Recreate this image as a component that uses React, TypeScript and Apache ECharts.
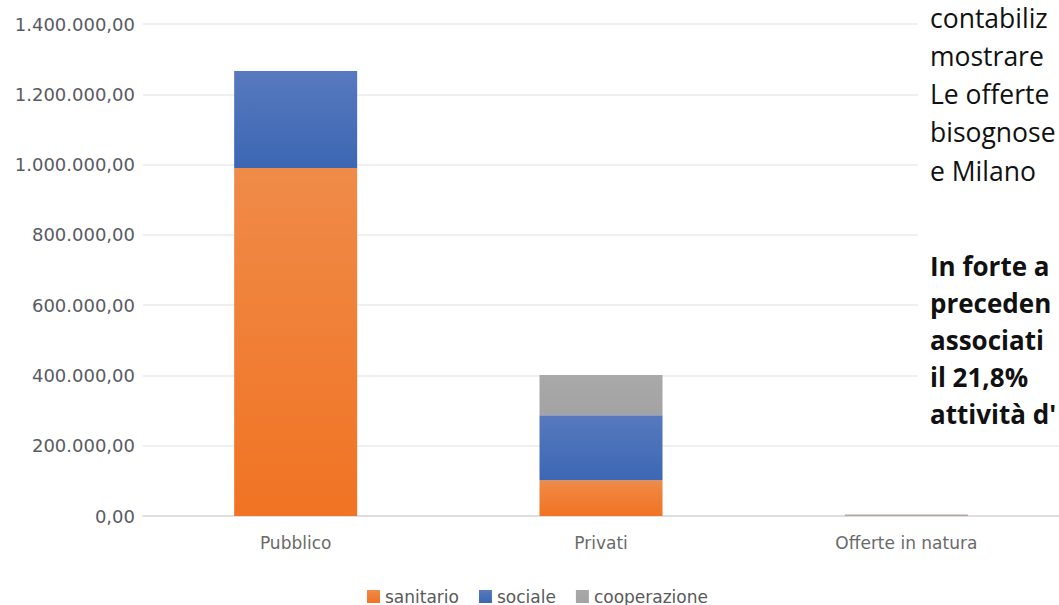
import React, { useEffect, useRef } from "react";
import * as echarts from "echarts";

const categories = ["Pubblico", "Privati", "Offerte in natura"];
const seriesNames = ["sanitario", "sociale", "cooperazione"];
const sanitario = [990000, 102000, 1200];
const sociale = [276000, 185000, 800];
const cooperazione = [0, 114000, 2000];
const yTickLabels = [
  "0,00",
  "200.000,00",
  "400.000,00",
  "600.000,00",
  "800.000,00",
  "1.000.000,00",
  "1.200.000,00",
  "1.400.000,00",
];
const textLinesRegular = ["contabiliz", "mostrare", "Le offerte", "bisognose", "e Milano"];
const textLinesBold = ["In forte a", "preceden", "associati", "il 21,8%", "attività d'"];

const FONT = "'DejaVu Sans', sans-serif";

function grad(top: string, bottom: string) {
  return new echarts.graphic.LinearGradient(0, 0, 0, 1, [
    { offset: 0, color: top },
    { offset: 1, color: bottom },
  ]);
}

export default function App() {
  const ref = useRef<HTMLDivElement>(null);
  useEffect(() => {
    if (!ref.current) return;
    const chart = echarts.init(ref.current, undefined, { renderer: "svg" });
    const colors = [
      grad("#EF8B48", "#F17323"),
      grad("#5779BF", "#3C67B3"),
      grad("#A9A9A9", "#A3A3A3"),
    ];
    const data = [sanitario, sociale, cooperazione];
    const regY = [18, 56, 94, 132, 171];
    const boldY = [266, 303, 340, 377, 414];
    const graphics: any[] = [
      {
        type: "rect",
        z: 10,
        shape: { x: 918, y: 0, width: 141, height: 440 },
        style: { fill: "#ffffff" },
      },
      ...textLinesRegular.map((t, i) => ({
        type: "text",
        z: 11,
        x: 930,
        y: regY[i],
        style: {
          text: t,
          fill: "#111",
          font: "26.5px 'Open Sans', sans-serif",
          verticalAlign: "middle",
          align: "left",
        },
      })),
      ...textLinesBold.map((t, i) => ({
        type: "text",
        z: 11,
        x: 930,
        y: boldY[i],
        style: {
          text: t,
          fill: "#111",
          font: "bold 26px 'Open Sans', sans-serif",
          verticalAlign: "middle",
          align: "left",
        },
      })),
    ];
    chart.setOption({
      animation: false,
      backgroundColor: "#ffffff",
      grid: { left: 143, top: 24, width: 918, height: 492, containLabel: false },
      legend: {
        data: seriesNames,
        left: 362,
        top: 583,
        itemWidth: 13,
        itemHeight: 13,
        itemGap: 20,
        icon: "rect",
        textStyle: { fontFamily: FONT, fontSize: 17, color: "#595959" },
      },
      xAxis: {
        type: "category",
        data: categories,
        axisLine: { lineStyle: { color: "#d9d9d9", width: 1.5 } },
        axisTick: { show: false },
        axisLabel: { fontFamily: FONT, fontSize: 17, color: "#6a6a6a", margin: 18 },
      },
      yAxis: {
        type: "value",
        min: 0,
        max: 1400000,
        interval: 200000,
        axisLine: { show: false },
        axisTick: { show: false },
        splitLine: { lineStyle: { color: "#ebebeb", width: 1.5 } },
        axisLabel: {
          fontFamily: FONT,
          fontSize: 18,
          color: "#5a5a62",
          margin: 8,
          padding: [0, 0, 5, 0],
          formatter: (v: number) => yTickLabels[Math.round(v / 200000)] ?? "",
        },
      },
      series: seriesNames.map((name, i) => ({
        name,
        type: "bar",
        stack: "total",
        barWidth: 123,
        data: data[i],
        itemStyle: { color: colors[i] },
      })),
      graphic: graphics,
    });
    return () => chart.dispose();
  }, []);
  return (
    <div
      ref={ref}
      style={{ position: "fixed", left: 0, top: 0, width: 1059, height: 605, background: "#fff" }}
    />
  );
}
